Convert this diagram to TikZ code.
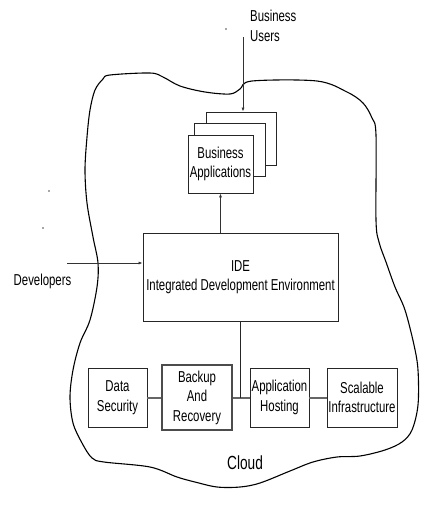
\documentclass[tikz,border=0pt]{standalone}
\usepackage{fontspec}
\setmainfont{Liberation Sans}[FakeStretch=0.72]
\usetikzlibrary{arrows.meta}
\begin{document}
\begin{tikzpicture}[x=1pt,y=-1pt,
  txt/.style={font=\fontsize{15.8}{19.5}\selectfont, align=center, inner sep=0pt},
  box/.style={txt, draw=black!85, line width=0.8pt, fill=white},
  thickbox/.style={box, draw=black!70, line width=1.5pt},
  arr/.style={draw=black!80, line width=0.7pt, -{Latex[length=4pt,width=3pt]}},
  link/.style={draw=black!60, line width=2pt},
  plain/.style={draw=black!85, line width=0.8pt},
  cloudline/.style={draw=black, line width=1.1pt}
]
\useasboundingbox (0,0) rectangle (437,515);
% cloud outline
\draw[cloudline] plot[smooth cycle, tension=0.55] coordinates {
 (110,75) (150,73) (163,77) (180,86) (205,92) (230,94) (240,89) (252,81)
 (317,81) (347,92) (363,103) (372,118) (376,135) (376,220) (379,242)
 (386,262) (395,287) (405,310) (414,345) (418,370) (418,405) (412,430)
 (402,442) (385,450) (360,456) (337,457) (313,462) (290,471) (260,483)
 (240,487) (217,487) (195,482) (177,477) (150,467) (104,462) (92,458)
 (82,443) (73,423) (70,397) (73,370) (80,343) (90,320) (97,287) (98,263)
 (93,237) (87,203) (85,170) (87,137) (90,110) (95,90) (103,79)};
% stacked business application boxes
\node[box, minimum width=70pt, minimum height=53pt] (back) at (241,138.5) {};
\node[box, minimum width=71pt, minimum height=53pt] (mid) at (229.5,149.5) {};
\node[box, minimum width=65pt, minimum height=58pt] (ba) at (220.5,164) {Business\\Applications};
% IDE
\node[box, minimum width=195pt, minimum height=88pt] (ide) at (240.5,277) {IDE\\Integrated Development Environment};
% bottom services
\node[box, minimum width=59pt, minimum height=59pt] (ds) at (117.5,397.5) {Data\\Security};
\node[thickbox, minimum width=70pt, minimum height=65pt] (br) at (197,397.5) {Backup\\And\\Recovery};
\node[box, minimum width=59pt, minimum height=59pt] (ah) at (279.5,397.5) {Application\\Hosting};
\node[box, minimum width=70pt, minimum height=59pt] (si) at (362,397.5) {Scalable\\Infrastructure};
% labels
\node[txt, anchor=west, align=left] (bu) at (250,26) {Business\\Users};
\node[txt] (dev) at (42.5,281) {Developers};
\node[txt, font=\fontsize{19}{22}\selectfont] (cloud) at (245,463) {Cloud};
% connectors
\coordinate (buarr) at (243,37);
\draw[arr] (buarr) -- (buarr |- back.north);
\draw[arr] (ba.south |- ide.north) -- (ba.south);
\coordinate (devarr) at (67,263);
\draw[arr] (devarr) -- (devarr -| ide.west);
\draw[link] (ds) -- (br);
\draw[link] (br) -- (ah);
\draw[link] (ah) -- (si);
\coordinate (junc) at (ide.south |- br.east);
\draw[plain] (ide.south) -- (junc);
% specks
\fill[black!70] (226,29) circle (0.9pt);
\fill[black!70] (49,191) circle (0.9pt);
\fill[black!70] (43,228) circle (0.9pt);
\end{tikzpicture}
\end{document}
